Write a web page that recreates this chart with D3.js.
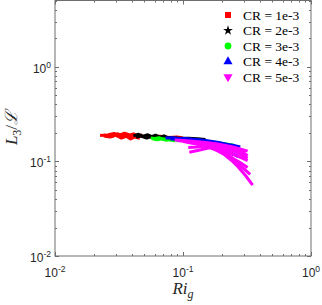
<!DOCTYPE html>
<html>
<head>
<meta charset="utf-8">
<script src="https://cdn.jsdelivr.net/npm/d3@7"></script>
<style>
body { margin: 0; background: #fff; }
</style>
</head>
<body>
<div id="chart"></div>
<script>
// curves for each CR value, pairs of [Ri_g, L3/L]
var cr1Curves = [
    [[0.0225, 0.188], [0.025, 0.190], [0.028, 0.184], [0.031, 0.195], [0.034, 0.186], [0.037, 0.193], [0.040, 0.181], [0.043, 0.188], [0.045, 0.180]],
    [[0.024, 0.185], [0.027, 0.181], [0.030, 0.189], [0.033, 0.176], [0.036, 0.184], [0.039, 0.172], [0.042, 0.181], [0.046, 0.175]],
    [[0.026, 0.191], [0.029, 0.197], [0.032, 0.190], [0.035, 0.198], [0.038, 0.189], [0.041, 0.195], [0.044, 0.186], [0.048, 0.190]],
    [[0.030, 0.186], [0.036, 0.183], [0.045, 0.186], [0.055, 0.181], [0.066, 0.184], [0.078, 0.179], [0.09, 0.181], [0.10, 0.177]]
];
var cr2Curves = [
    [[0.041, 0.186], [0.045, 0.193], [0.049, 0.184], [0.053, 0.191], [0.057, 0.182], [0.061, 0.189], [0.066, 0.180], [0.071, 0.186], [0.076, 0.177], [0.080, 0.180]],
    [[0.043, 0.180], [0.047, 0.185], [0.052, 0.176], [0.056, 0.183], [0.060, 0.174], [0.065, 0.180], [0.070, 0.172], [0.075, 0.176]],
    [[0.06, 0.180], [0.075, 0.178], [0.09, 0.176], [0.11, 0.175], [0.13, 0.173], [0.15, 0.170]]
];
var cr3Curves = [
    [[0.056, 0.176], [0.060, 0.174], [0.065, 0.178], [0.070, 0.171], [0.075, 0.174], [0.080, 0.168], [0.086, 0.170], [0.092, 0.165]],
    [[0.058, 0.172], [0.063, 0.169], [0.068, 0.173], [0.074, 0.167], [0.080, 0.170], [0.087, 0.164]],
    [[0.08, 0.174], [0.10, 0.172], [0.12, 0.169], [0.15, 0.164], [0.18, 0.158], [0.21, 0.153], [0.25, 0.148]]
];
var cr4Curves = [
    [[0.073, 0.176], [0.082, 0.177], [0.092, 0.175], [0.105, 0.174], [0.12, 0.171], [0.14, 0.168], [0.16, 0.164], [0.19, 0.158], [0.22, 0.152], [0.25, 0.147], [0.28, 0.142]],
    [[0.08, 0.172], [0.095, 0.171], [0.11, 0.168], [0.13, 0.164], [0.155, 0.158], [0.18, 0.151], [0.21, 0.144], [0.24, 0.136], [0.27, 0.128]],
    [[0.09, 0.168], [0.11, 0.165], [0.13, 0.160], [0.16, 0.151], [0.19, 0.140], [0.22, 0.128], [0.25, 0.118], [0.27, 0.112]]
];
var cr5Curves = [
    [[0.086, 0.168], [0.10, 0.166], [0.12, 0.163], [0.15, 0.158], [0.18, 0.153], [0.21, 0.148], [0.245, 0.142], [0.28, 0.135], [0.32, 0.128]],
    [[0.092, 0.165], [0.11, 0.162], [0.14, 0.157], [0.17, 0.150], [0.20, 0.142], [0.24, 0.131], [0.28, 0.119], [0.32, 0.108]],
    [[0.10, 0.162], [0.12, 0.158], [0.15, 0.151], [0.18, 0.142], [0.21, 0.131], [0.25, 0.118], [0.29, 0.108], [0.32, 0.102]],
    [[0.105, 0.160], [0.13, 0.154], [0.16, 0.145], [0.19, 0.133], [0.22, 0.120], [0.25, 0.106], [0.29, 0.094], [0.32, 0.086]],
    [[0.11, 0.158], [0.14, 0.150], [0.17, 0.138], [0.20, 0.125], [0.23, 0.111], [0.26, 0.097], [0.30, 0.083], [0.335, 0.073]],
    [[0.12, 0.155], [0.15, 0.145], [0.18, 0.132], [0.21, 0.118], [0.24, 0.102], [0.27, 0.087], [0.31, 0.070], [0.35, 0.056]],
    [[0.112, 0.125], [0.13, 0.130], [0.155, 0.137], [0.19, 0.145], [0.22, 0.144], [0.26, 0.137], [0.31, 0.127]],
    [[0.11, 0.140], [0.13, 0.142], [0.16, 0.146], [0.20, 0.145], [0.24, 0.139], [0.28, 0.128], [0.32, 0.115]]
];
var legendLabels = ["CR = 1e-3", "CR = 2e-3", "CR = 3e-3", "CR = 4e-3", "CR = 5e-3"];
var xTickExps = [-2, -1, 0];
var yTickExps = [-2, -1, 0];

var seriesList = [cr1Curves, cr2Curves, cr3Curves, cr4Curves, cr5Curves];
var colors = ["#ff0000", "#000000", "#00ff00", "#0000ff", "#ff00ff"];
var symbols = [d3.symbolSquare, d3.symbolStar, d3.symbolCircle, d3.symbolTriangle, d3.symbolTriangle];

var svgWidth = 322, svgHeight = 305;
var plotLeft = 55, plotTop = 0.5, plotW = 256, plotH = 255.5;
var axisColor = "#6e6e6e";

var svg = d3.select("#chart").append("svg")
    .attr("width", svgWidth)
    .attr("height", svgHeight);

var scaleX = d3.scaleLog().domain([0.01, 1]).range([plotLeft, plotLeft + plotW]);
var scaleY = d3.scaleLog().domain([0.01, 5]).range([plotTop + plotH, plotTop]);

// curves
var line = d3.line()
    .x(function (d) { return scaleX(d[0]); })
    .y(function (d) { return scaleY(d[1]); });

var curveGroups = svg.append("g").selectAll("g").data(seriesList).enter().append("g");
curveGroups.selectAll("path")
    .data(function (d, i) { return d.map(function (c) { return { pts: c, color: colors[i] }; }); })
    .enter()
    .append("path")
    .attr("d", function (d) { return line(d.pts); })
    .attr("fill", "none")
    .attr("stroke", function (d) { return d.color; })
    .attr("stroke-width", 3)
    .attr("stroke-linejoin", "round");

// frame
svg.append("rect")
    .attr("x", plotLeft).attr("y", plotTop)
    .attr("width", plotW).attr("height", plotH)
    .attr("fill", "none")
    .attr("stroke", axisColor)
    .attr("stroke-width", 1);

// ticks (inside, on all four sides)
var tickVals = function (scale) {
    var out = [];
    var dom = scale.domain();
    for (var e = -3; e <= 1; e++) {
        for (var m = 1; m <= 9; m++) {
            var v = m * Math.pow(10, e);
            if (v >= dom[0] * 0.999 && v <= dom[1] * 1.001) out.push({ v: v, major: m == 1 });
        }
    }
    return out;
};
var ticks = svg.append("g").attr("stroke", axisColor);
tickVals(scaleX).forEach(function (t) {
    var len = t.major ? 4 : 2;
    var x = Math.round(scaleX(t.v)) + 0.5;
    ticks.append("line").attr("x1", x).attr("x2", x).attr("y1", plotTop + plotH).attr("y2", plotTop + plotH - len);
    ticks.append("line").attr("x1", x).attr("x2", x).attr("y1", plotTop).attr("y2", plotTop + len);
});
tickVals(scaleY).forEach(function (t) {
    var len = t.major ? 4 : 2;
    var y = Math.round(scaleY(t.v)) + 0.5;
    ticks.append("line").attr("y1", y).attr("y2", y).attr("x1", plotLeft).attr("x2", plotLeft + len);
    ticks.append("line").attr("y1", y).attr("y2", y).attr("x1", plotLeft + plotW).attr("x2", plotLeft + plotW - len);
});

// tick labels
var tickFont = "'Liberation Sans', Arial, sans-serif";
xTickExps.forEach(function (e) {
    var t = svg.append("text")
        .attr("x", scaleX(Math.pow(10, e)))
        .attr("y", plotTop + plotH + 21)
        .attr("text-anchor", "middle")
        .style("font-family", tickFont)
        .style("font-size", "12px")
        .attr("fill", "#262626");
    t.append("tspan").text("10");
    t.append("tspan").attr("dy", -5).style("font-size", "8.5px").text(e);
});
yTickExps.forEach(function (e) {
    var t = svg.append("text")
        .attr("x", plotLeft - 4)
        .attr("y", scaleY(Math.pow(10, e)) + 6)
        .attr("text-anchor", "end")
        .style("font-family", tickFont)
        .style("font-size", "12px")
        .attr("fill", "#262626");
    t.append("tspan").text("10");
    t.append("tspan").attr("dy", -5).style("font-size", "8.5px").text(e);
});

// axis labels
var xl = svg.append("text")
    .attr("x", plotLeft + plotW / 2)
    .attr("y", 294)
    .attr("text-anchor", "middle")
    .style("font-family", "'Liberation Serif', serif")
    .style("font-size", "17px")
    .attr("fill", "#262626");
xl.append("tspan").style("font-style", "italic").text("Ri");
xl.append("tspan").attr("dy", 4).style("font-style", "italic").style("font-size", "12px").text("g");

var yl = svg.append("text")
    .attr("transform", "translate(17, 128) rotate(-90)")
    .attr("text-anchor", "middle")
    .style("font-family", "'Liberation Serif', serif")
    .style("font-size", "17px")
    .attr("fill", "#262626");
yl.append("tspan").style("font-style", "italic").text("L");
yl.append("tspan").attr("dy", 4).style("font-size", "12px").text("3");
yl.append("tspan").attr("dy", -4).text("/");
yl.append("tspan").style("font-family", "'DejaVu Serif', serif").style("font-style", "italic").text("\u2112");

// legend
var legend = svg.append("g").attr("transform", "translate(228, 15)");
legend.selectAll("path").data(legendLabels)
    .enter()
    .append("path")
    .attr("d", function (d, i) { return d3.symbol().type(symbols[i]).size(i == 1 ? 30 : 36)(); })
    .attr("transform", function (d, i) { return "translate(0," + (i * 15.5) + ")" + (i == 4 ? " rotate(180)" : ""); })
    .attr("fill", function (d, i) { return colors[i]; });
legend.selectAll("text").data(legendLabels)
    .enter()
    .append("text")
    .text(function (d) { return d; })
    .attr("x", 15)
    .attr("y", function (d, i) { return i * 15.5 + 4.5; })
    .style("font-family", "'Liberation Serif', serif")
    .style("font-size", "13.5px")
    .attr("fill", "#000");
</script>
</body>
</html>
